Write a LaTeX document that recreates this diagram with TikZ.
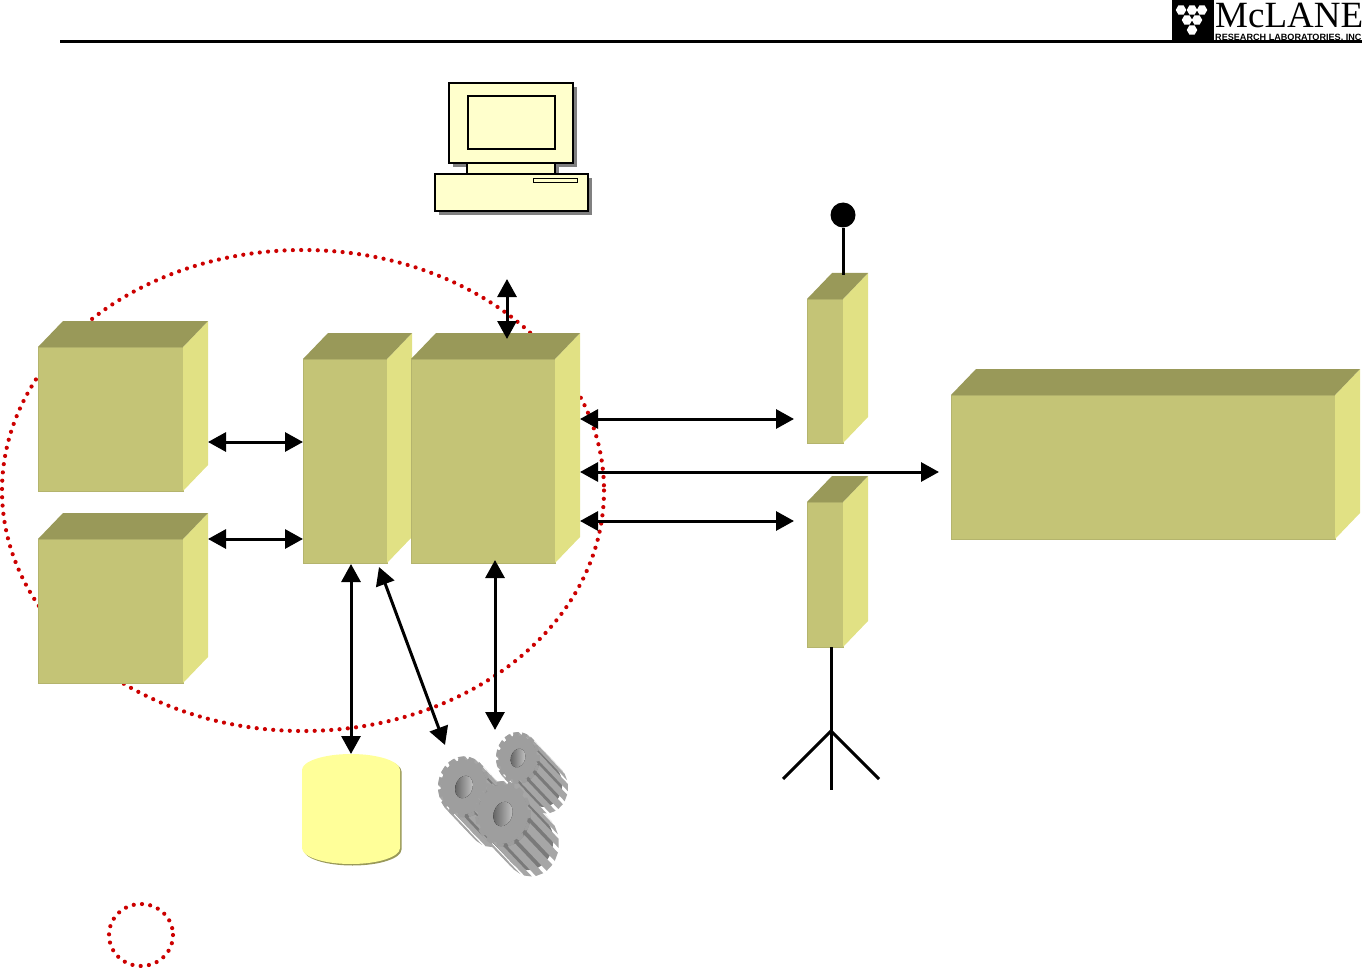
\documentclass[tikz,border=0pt]{standalone}
\usepackage{fontspec}
\setmainfont{Liberation Serif}
\setsansfont{Liberation Sans}
\usepackage{xcolor}
\usepackage{tikz}
\usetikzlibrary{arrows.meta,positioning,calc,shapes.geometric,shadows}
\definecolor{frontcol}{HTML}{C4C476}
\definecolor{topcol}{HTML}{999959}
\definecolor{sidecol}{HTML}{E1E184}
\definecolor{dotcol}{HTML}{CC0000}
\definecolor{pccol}{HTML}{FFFFCC}
\definecolor{storecol}{HTML}{FFFF99}
\newcommand{\cuboid}[5]{%
  \node[front, anchor=north west, minimum width=#4pt, minimum height=#5pt] (#1) at (#2,#3) {};
  \fill[sidecol] (#1.north east) -- ++(25,-26) -- ++(0,#5) -- (#1.south east) -- cycle;
  \fill[topcol] (#1.north west) -- ++(25,-26) -- ++(#4,0) -- (#1.north east) -- cycle;}
\newcommand{\gearwheel}[4]{% centre x, centre y, root radius, tip radius
  \begin{scope}[shift={(#1,#2)}, yscale=1.18]
  \foreach \d in {0,0.1,...,1}
    \fill[black!52] (\d*28,\d*25) circle (#3);
  \foreach \a in {0,24,...,336}
    \fill[black!35] (\a-8:#4) -- (\a+8:#4) -- ++(28,25) -- ($(\a-8:#4)+(28,25)$) -- cycle;
  \foreach \a in {0,24,...,336}
    \fill[black!38] (\a-9:#3) -- (\a-6:#4) -- (\a+6:#4) -- (\a+9:#3) -- cycle;
  \fill[black!38] (0,0) circle (#3);
  \fill[left color=black!62, right color=black!22, rotate=-35] (0,0) ellipse (#3*0.36 and #3*0.44);
  \end{scope}}
\newcommand{\drum}[1]{% fill colour, outline of the store
  \fill[#1] (302,770) arc[start angle=180, end angle=360, x radius=49, y radius=16] -- (400,848)
    arc[start angle=0, end angle=180, x radius=49, y radius=16] -- cycle;}
\begin{document}
\begin{tikzpicture}[x=1pt, y=-1pt,
  front/.style={draw=frontcol!92!black, fill=frontcol, line width=0.8pt, inner sep=0pt, outer sep=0pt},
  arr/.style={{Triangle[length=18pt,width=19pt]}-{Triangle[length=18pt,width=19pt]}, line width=3pt, black},
  dots/.style={draw=dotcol, line width=4.2pt, line cap=round, dash pattern=on 0pt off 8.3pt},
  pc/.style={draw=black, fill=pccol, line width=1.6pt, anchor=north west, inner sep=0pt, outer sep=0pt},
  shad/.style={drop shadow={shadow xshift=4pt, shadow yshift=-4pt, fill=gray, opacity=1}},
  wire/.style={line width=3pt, black}]
\useasboundingbox (0,0) rectangle (1362,968);
% header
\draw[line width=2.2pt] (60,41.5) -- (1362,41.5);
\node[fill=black, anchor=north west, inner sep=0pt, minimum width=42pt, minimum height=40pt] (logomark) at (1172,0) {};
\foreach \x/\y in {1181/10,1192/10,1202/10,1187/20,1197/20,1192/30}
  \node[regular polygon, regular polygon sides=6, fill=white, minimum size=10.5pt, inner sep=0pt] (hex\x\y) at (\x,\y) {};
\node[anchor=north west, inner sep=0pt, font=\fontsize{37}{37}\selectfont] (logoname) at (1215,3) {McLANE};
\node[anchor=north west, inner sep=0pt, font=\sffamily\bfseries\fontsize{9.1}{10}\selectfont] (logosub) at (1215,34) {RESEARCH LABORATORIES, INC};
% dotted outlines
\draw[dots] (303,490.5) ellipse (301 and 240.5);
\draw[dots] (141,935) ellipse (32 and 31);
% boxes
\cuboid{boxA}{38}{347}{145}{144}
\cuboid{boxB}{38}{539}{145}{144}
\cuboid{boxC}{303}{359}{84}{204}
\cuboid{boxD}{411}{359}{144}{204}
\cuboid{boxE}{807}{299}{36}{144}
\cuboid{boxF}{807}{502}{36}{145}
\cuboid{boxG}{951}{395}{384}{144}
% computer
\node[pc, shad, minimum width=124pt, minimum height=80pt] (monitor) at (449,83) {};
\node[pc, minimum width=87pt, minimum height=53pt] (screen) at (468,96) {};
\node[pc, shad, minimum width=88pt, minimum height=11pt] (neck) at (467,163) {};
\node[pc, shad, minimum width=153pt, minimum height=37pt] (tower) at (435,174) {};
\node[pc, line width=1pt, minimum width=44pt, minimum height=4pt] (slot) at (533,179) {};
% store and gears
\begin{scope}[shift={(1.5,1.5)}]
\drum{topcol}
\end{scope}
\drum{storecol}
\coordinate (store) at (351,754);
\gearwheel{518}{758}{19}{22}
\gearwheel{464}{787}{23}{26}
\gearwheel{503}{814}{25}{28}
% sensor mast and stand
\node[circle, fill=black, minimum size=25pt, inner sep=0pt] (ball) at (843,215) {};
\draw[wire] (ball) -- ([xshift=18pt,yshift=24pt]boxE.north);
\coordinate (hub) at (831,731);
\coordinate (footL) at (783,779);
\coordinate (footM) at (831,790);
\coordinate (footR) at (879,779);
\draw[wire] ([xshift=6pt]boxF.south) -- (footM);
\draw[wire] (footL) -- (hub) -- (footR);
% links
\coordinate (pcport) at (507,279);
\coordinate (gearport) at (445,745);
\coordinate (drivport) at (495,730);
\draw[arr] (pcport) -- ([xshift=24pt,yshift=20pt]boxD.north);
\draw[arr] ([xshift=25pt,yshift=-23pt]boxA.east) -- ([yshift=19pt]boxC.west);
\draw[arr] ([xshift=25pt,yshift=72pt]boxB.east) -- ([yshift=-78pt]boxC.west);
\draw[arr] ([xshift=25pt,yshift=42pt]boxD.east) -- ([xshift=-13pt,yshift=-48pt]boxE.west);
\draw[arr] ([xshift=25pt,yshift=-11pt]boxD.east) -- ([xshift=-12pt,yshift=-5pt]boxG.west);
\draw[arr] ([xshift=25pt,yshift=-60pt]boxD.east) -- ([xshift=-13pt,yshift=53.5pt]boxF.west);
\draw[arr] ([xshift=6pt,yshift=-1pt]boxC.south) -- (store);
\draw[arr] ([xshift=34pt,yshift=-4pt]boxC.south) -- (gearport);
\draw[arr] ([xshift=12pt,yshift=3pt]boxD.south) -- (drivport);
\end{tikzpicture}
\end{document}
